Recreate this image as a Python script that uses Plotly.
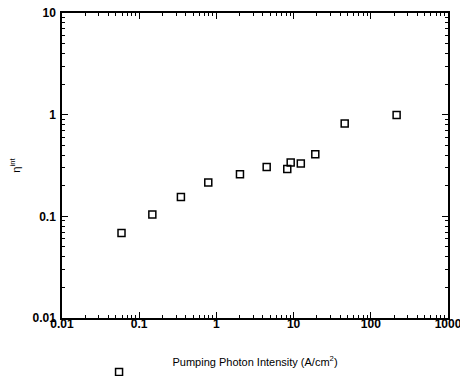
import plotly.graph_objects as go

intensity = [0.059, 0.148, 0.347, 0.785, 2.02, 4.48, 8.28, 9.17, 12.4, 19.1, 45.9, 216]
eta_int = [0.0687, 0.104, 0.155, 0.215, 0.259, 0.306, 0.292, 0.338, 0.330, 0.408, 0.817, 0.993]

x_ticks = [0.01, 0.1, 1, 10, 100, 1000]
x_labels = ["0.01", "0.1", "1", "10", "100", "1000"]
y_ticks = [0.01, 0.1, 1, 10]
y_labels = ["0.01", "0.1", "1", "10"]

x_minor = [m * d for d in [0.01, 0.1, 1, 10, 100] for m in range(2, 10)]
y_minor = [m * d for d in [0.01, 0.1, 1] for m in range(2, 10)]

fig = go.Figure()
fig.add_trace(go.Scatter(
    x=intensity, y=eta_int, mode="markers", name=" ",
    marker=dict(symbol="square-open", size=7, color="black", line=dict(width=1.5, color="black")),
    showlegend=True,
))

axis_common = dict(
    type="log", showgrid=False, zeroline=False,
    showline=True, linecolor="black", linewidth=1.5, mirror="ticks",
    ticks="inside", ticklen=6, tickcolor="black", tickwidth=1.2,
    tickfont=dict(family="Liberation Sans", size=12, color="black", weight="bold"),
    ticklabeloverflow="allow",
)

fig.update_layout(
    width=460, height=376,
    margin=dict(l=62, r=12, t=13, b=58, autoexpand=False),
    paper_bgcolor="white", plot_bgcolor="white",
    font=dict(family="Liberation Sans", color="black"),
    xaxis=dict(axis_common, range=[-2, 3], tickmode="array", tickvals=x_ticks, ticktext=x_labels,
               minor=dict(tickmode="array", tickvals=x_minor, ticks="inside", ticklen=3,
                          tickcolor="black", tickwidth=1, showgrid=False),
               ticklabelstandoff=-6,
               title=dict(text="Pumping Photon Intensity (A/cm<sup>2</sup>)", font=dict(size=11), standoff=28)),
    yaxis=dict(axis_common, range=[-2, 1], tickmode="array", tickvals=y_ticks, ticktext=y_labels,
               minor=dict(tickmode="array", tickvals=y_minor, ticks="inside", ticklen=3,
                          tickcolor="black", tickwidth=1, showgrid=False),
               ticklabelstandoff=2,
               title=dict(text="η<sup>int</sup>", font=dict(size=11), standoff=10)),
    legend=dict(x=0.096, y=-0.177, xanchor="left", yanchor="middle", bgcolor="rgba(0,0,0,0)",
                font=dict(size=8), itemwidth=30),
)

fig.write_html("out.html", config={"displayModeBar": False},
               post_script="document.body.style.margin='0';")
